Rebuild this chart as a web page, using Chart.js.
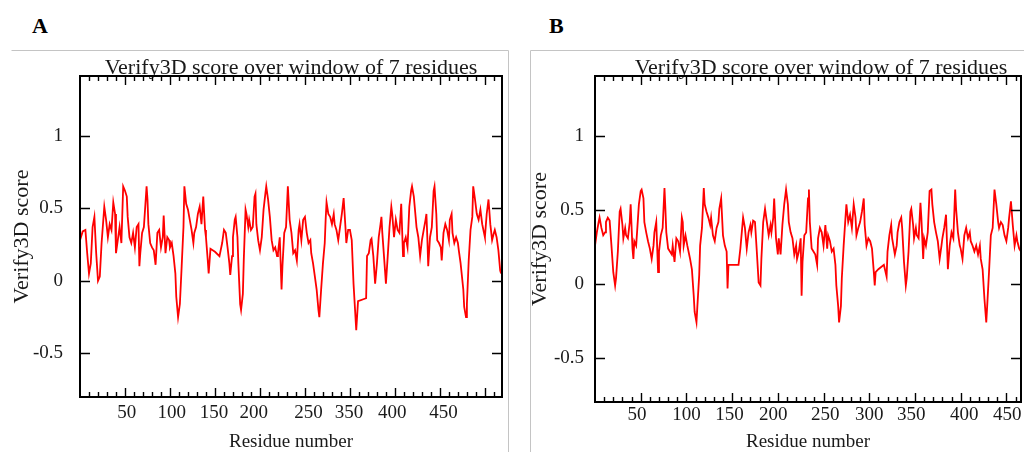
<!DOCTYPE html>
<html>
<head>
<meta charset="utf-8">
<script src="https://cdn.jsdelivr.net/npm/chart.js@4.4.1/dist/chart.umd.min.js"></script>
<style>
  html, body { margin: 0; padding: 0; background: #fff; overflow: hidden; }
  body { width: 1024px; height: 452px; position: relative; }
  .panel { position: absolute; top: 0; height: 452px; }
  #boxA { left: 0; width: 512px; }
  #boxB { left: 515px; width: 540px; }
  .tag { position: absolute; top: 15px; font: bold 22px "Liberation Serif", serif; line-height: 22px; color: #000; }
</style>
</head>
<body>
<div class="tag" style="left:32px">A</div>
<div class="tag" style="left:549px">B</div>
<div class="panel" id="boxA"><canvas id="chartA"></canvas></div>
<div class="panel" id="boxB"><canvas id="chartB"></canvas></div>
<script>
// DATA
// panel A: position along the chain, Verify3D score (7 residue window)
const idxA = [0,3,6,8,10,12,14,16,18,20,22,24,27,29,31,33,35,37,39,40,42,44,46,48,50,52,53,55,57,59,61,63,65,66,67,69,71,74,75,76,78,80,82,84,86,88,90,92,93,95,97,99,100,102,104,106,107,109,111,113,115,116,118,120,122,124,126,127,129,131,133,135,137,139,140,142,143,145,150,155,158,
  160,162,164,166,167,169,170,172,173,175,176,178,179,181,182,184,185,187,188,190,192,194,195,196,198,200,202,204,206,207,209,211,213,215,217,219,220,222,224,225,227,229,231,233,235,237,239,241,243,244,246,248,250,252,254,256,257,259,261,263,265,266,268,270,272,273,274,276,278,280,282,283,285,287,289,291,293,295,296,298,300,302,304,307,309,318,
  319,321,323,324,326,328,330,332,334,335,336,339,340,342,344,346,347,349,351,353,355,357,359,360,362,364,366,368,369,371,373,374,376,378,380,382,384,385,386,387,389,391,393,394,396,397,399,401,402,404,406,408,410,411,413,414,416,418,420,421,423,426,427,429,430,432,434,436,437,439,441,443,445,447,449,450,452,454,456,458,460,461,463,465,467,468];
const scoreA = [0.28,0.34,0.35,0.19,0.05,0.12,0.37,0.44,0.19,0.00,0.03,0.26,0.51,0.42,0.30,0.39,0.35,0.54,0.46,0.19,0.28,0.37,0.26,0.65,0.62,0.58,0.44,0.30,0.26,0.33,0.23,0.37,0.39,0.10,0.19,0.33,0.37,0.65,0.56,0.39,0.26,0.23,0.21,0.11,0.33,0.35,0.23,0.30,0.45,0.19,0.30,0.28,0.23,0.26,0.17,0.05,-0.11,-0.25,-0.16,0.10,0.37,0.65,0.53,0.49,0.42,0.35,0.26,0.33,0.37,0.46,0.51,0.39,0.58,0.35,0.30,0.14,0.05,0.22,0.20,0.17,0.26,
  0.35,0.33,0.23,0.12,0.04,0.17,0.30,0.42,0.44,0.30,0.12,-0.16,-0.20,-0.09,0.14,0.49,0.46,0.37,0.42,0.35,0.37,0.58,0.60,0.39,0.28,0.21,0.30,0.49,0.60,0.65,0.56,0.44,0.28,0.21,0.23,0.17,0.19,0.30,-0.06,0.10,0.33,0.37,0.65,0.42,0.33,0.19,0.21,0.14,0.35,0.39,0.28,0.42,0.44,0.33,0.26,0.28,0.19,0.12,0.03,-0.06,-0.20,-0.25,-0.06,0.12,0.26,0.42,0.54,0.46,0.44,0.39,0.46,0.39,0.35,0.28,0.37,0.46,0.57,0.37,0.26,0.35,0.35,0.28,-0.02,-0.34,-0.14,-0.12,
  0.17,0.19,0.28,0.29,0.17,-0.02,0.12,0.30,0.39,0.44,0.33,0.07,-0.02,0.17,0.37,0.51,0.46,0.30,0.42,0.35,0.33,0.53,0.17,0.26,0.30,0.23,0.51,0.62,0.65,0.58,0.44,0.37,0.30,0.17,0.28,0.35,0.42,0.46,0.30,0.10,0.30,0.37,0.62,0.65,0.46,0.28,0.26,0.23,0.14,0.33,0.39,0.35,0.28,0.42,0.46,0.33,0.26,0.30,0.26,0.21,0.12,-0.06,-0.18,-0.25,-0.16,0.14,0.35,0.44,0.65,0.56,0.46,0.42,0.49,0.39,0.33,0.30,0.46,0.56,0.39,0.28,0.33,0.35,0.30,0.21,0.07,0.05];

// panel B
const idxB = [0,2,4,5,7,9,11,12,14,16,18,20,22,23,25,27,28,30,31,33,34,36,38,39,41,42,43,45,46,48,50,51,53,54,56,58,60,62,64,65,67,69,70,72,74,76,77,78,80,82,84,85,87,89,91,93,95,96,97,99,101,103,104,106,108,109,111,112,114,115,117,119,120,122,124,126,127,129,131,133,135,136,138,140,142,144,145,146,157,
  159,161,162,164,166,168,170,171,173,175,177,179,181,182,184,186,188,190,192,193,195,196,198,200,201,203,205,207,209,211,212,214,216,218,220,221,223,225,226,227,229,231,233,234,235,237,239,241,243,244,246,248,250,252,254,255,257,259,261,263,264,266,267,269,270,272,274,275,277,279,281,283,285,286,288,290,292,294,295,297,299,301,303,305,306,307,310,316,
  319,320,322,324,325,328,330,331,333,335,336,338,340,341,343,345,346,348,349,351,352,354,356,357,359,360,362,364,366,368,369,371,373,375,377,379,380,382,384,386,388,390,392,394,395,397,399,400,402,404,406,408,410,411,413,415,417,419,421,422,424,426,428,429,431,433,435,437,439,441,442,444,446,448,450,452,453,455,457,459,461,462,464,466];
const scoreB = [0.26,0.35,0.42,0.45,0.38,0.33,0.35,0.42,0.45,0.43,0.26,0.08,-0.01,0.04,0.22,0.49,0.51,0.40,0.31,0.38,0.33,0.31,0.42,0.54,0.24,0.17,0.29,0.26,0.35,0.54,0.63,0.64,0.58,0.42,0.35,0.29,0.24,0.17,0.26,0.35,0.42,0.08,0.22,0.33,0.38,0.65,0.51,0.35,0.24,0.22,0.20,0.26,0.15,0.31,0.29,0.22,0.45,0.42,0.26,0.33,0.26,0.20,0.17,0.10,-0.08,-0.19,-0.26,-0.15,0.06,0.26,0.38,0.65,0.54,0.49,0.45,0.40,0.45,0.33,0.29,0.38,0.42,0.51,0.58,0.33,0.26,0.22,-0.03,0.13,0.13,
  0.24,0.38,0.45,0.38,0.24,0.35,0.40,0.35,0.43,0.42,0.22,0.01,-0.01,0.17,0.42,0.51,0.42,0.33,0.40,0.35,0.45,0.58,0.31,0.20,0.31,0.20,0.40,0.54,0.64,0.54,0.42,0.35,0.31,0.20,0.26,0.17,0.22,0.31,-0.08,0.15,0.33,0.35,0.58,0.64,0.42,0.24,0.22,0.20,0.13,0.31,0.38,0.35,0.26,0.40,0.24,0.33,0.29,0.22,0.24,0.13,-0.01,-0.15,-0.26,-0.15,0.04,0.26,0.45,0.54,0.42,0.47,0.38,0.54,0.45,0.33,0.38,0.42,0.49,0.58,0.40,0.26,0.31,0.29,0.24,0.08,-0.01,0.08,0.10,0.13,
  0.05,0.22,0.33,0.40,0.31,0.20,0.26,0.35,0.42,0.45,0.38,0.15,-0.01,0.04,0.22,0.49,0.51,0.40,0.31,0.38,0.33,0.31,0.55,0.45,0.17,0.31,0.26,0.35,0.63,0.64,0.54,0.42,0.35,0.29,0.17,0.26,0.31,0.38,0.47,0.10,0.26,0.35,0.31,0.64,0.51,0.35,0.26,0.24,0.17,0.33,0.38,0.31,0.35,0.29,0.26,0.22,0.26,0.20,0.26,0.17,0.10,-0.10,-0.26,-0.15,0.08,0.33,0.38,0.64,0.54,0.42,0.38,0.42,0.40,0.33,0.29,0.38,0.45,0.56,0.40,0.26,0.33,0.29,0.24,0.22];

// residue-number labels and where they sit along the axis
const tickAtA = [52, 102, 149, 193, 254, 299, 347, 404];
const tickTextA = ['50','100','150','200','250','350','400','450'];
const tickAtB = [46, 100, 147, 195, 252, 300, 346, 404, 451];
const tickTextB = ['50','100','150','200','250','300','350','400','450'];

const yTicks = [-0.5, 0, 0.5, 1];
const yTickText = ['-0.5', '0', '0.5', '1'];

const SERIF = '"Liberation Serif", "Times New Roman", serif';
const INK = '#1a1a1a';

// box, inward ticks and the grey picture edges
const framePlugin = {
  id: 'frame',
  afterLayout(chart, args, opts) {
    if (chart.titleBlock && opts.titleShift) {
      chart.titleBlock.left += opts.titleShift;
      chart.titleBlock.right += opts.titleShift;
    }
  },
  afterDatasetsDraw(chart, args, opts) {
    const { ctx, chartArea: a, scales: { x, y } } = chart;
    ctx.save();
    ctx.strokeStyle = '#000';
    ctx.lineWidth = 2;
    ctx.strokeRect(a.left, a.top, a.right - a.left, a.bottom - a.top);

    ctx.lineWidth = 1.4;
    ctx.beginPath();
    for (let v = 10; v < x.max; v += 10) {
      const px = Math.round(x.getPixelForValue(v)) + 0.5;
      const len = v % 50 === 0 ? 9 : 5;
      ctx.moveTo(px, a.bottom); ctx.lineTo(px, a.bottom - len);
      ctx.moveTo(px, a.top); ctx.lineTo(px, a.top + len);
    }
    for (const v of yTicks) {
      const py = Math.round(y.getPixelForValue(v)) + 0.5;
      ctx.moveTo(a.left, py); ctx.lineTo(a.left + 10, py);
      ctx.moveTo(a.right, py); ctx.lineTo(a.right - 10, py);
    }
    ctx.stroke();

    ctx.strokeStyle = '#c4c4c4';
    ctx.lineWidth = 1;
    ctx.beginPath();
    for (const e of opts.edges || []) {
      ctx.moveTo(e[0] + 0.5, e[1] + 0.5);
      ctx.lineTo(e[2] + 0.5, e[3] + 0.5);
    }
    ctx.stroke();
    ctx.restore();
  }
};

function MakePanel(canvasId, idx, score, xMax, tickAt, tickText, lay) {
  const points = idx.map((v, i) => ({ x: v, y: score[i] }));
  return new Chart(document.getElementById(canvasId), {
    type: 'line',
    data: {
      datasets: [{
        data: points,
        borderColor: '#ff0000',
        borderWidth: 1.8,
        pointRadius: 0,
        tension: 0,
        fill: false
      }]
    },
    options: {
      responsive: true,
      maintainAspectRatio: false,
      animation: false,
      events: [],
      layout: { padding: { left: 0, right: lay.padRight, top: 0, bottom: 0 } },
      plugins: {
        legend: { display: false },
        tooltip: { enabled: false },
        title: {
          display: true,
          text: 'Verify3D score over window of 7 residues',
          fullSize: false,
          color: INK,
          font: { family: SERIF, size: 22, weight: 'normal', lineHeight: 1 },
          padding: { top: 57, bottom: -3 }
        },
        frame: { titleShift: lay.titleShift, edges: lay.edges }
      },
      scales: {
        x: {
          type: 'linear',
          min: 0,
          max: xMax,
          afterBuildTicks: s => { s.ticks = tickAt.map(v => ({ value: v })); },
          afterFit: s => { s.height = lay.xHeight; },
          grid: { display: false, drawTicks: false },
          border: { display: false },
          ticks: {
            autoSkip: false,
            maxRotation: 0,
            padding: lay.xTickPad,
            color: INK,
            font: { family: SERIF, size: 19 },
            callback: (v, i) => tickText[i]
          },
          title: {
            display: true,
            text: 'Residue number',
            color: INK,
            font: { family: SERIF, size: 19, lineHeight: 1 },
            padding: { top: 0, bottom: 0 }
          }
        },
        y: {
          type: 'linear',
          min: -0.8,
          max: 1.41,
          afterBuildTicks: s => { s.ticks = yTicks.map(v => ({ value: v })); },
          afterFit: s => { s.width = lay.yWidth; },
          grid: { display: false, drawTicks: false },
          border: { display: false },
          ticks: {
            padding: lay.yTickPad,
            color: INK,
            font: { family: SERIF, size: 19 },
            callback: (v, i) => yTickText[i]
          },
          title: {
            display: true,
            text: 'Verify3D score',
            color: INK,
            font: { family: SERIF, size: 22, lineHeight: 1 },
            padding: { top: lay.yTitlePad, bottom: 0 }
          }
        }
      }
    },
    plugins: [framePlugin]
  });
}

MakePanel('chartA', idxA, scoreA, 469, tickAtA, tickTextA, {
  padRight: 10, yWidth: 80, xHeight: 55, xTickPad: 5, yTickPad: 17, yTitlePad: 11, titleShift: 0,
  edges: [[11, 50, 508, 50], [508, 50, 508, 452]]
});

MakePanel('chartB', idxB, scoreB, 466, tickAtB, tickTextB, {
  padRight: 34, yWidth: 80, xHeight: 50, xTickPad: 2, yTickPad: 11, yTitlePad: 14, titleShift: 13,
  edges: [[15, 50, 540, 50], [15, 50, 15, 452]]
});
</script>
</body>
</html>
